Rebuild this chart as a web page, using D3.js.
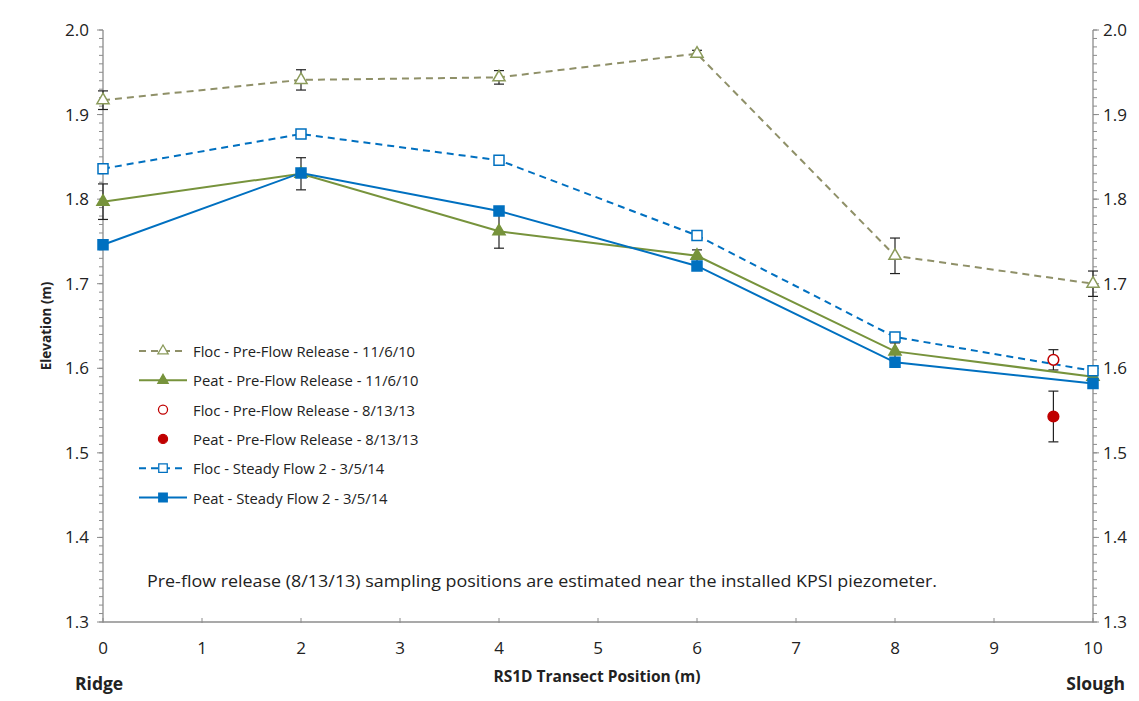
<!DOCTYPE html>
<html>
<head>
<meta charset="utf-8">
<script src="https://cdnjs.cloudflare.com/ajax/libs/d3/7.8.5/d3.min.js"></script>
<style>
  body { margin: 0; background: #fff; }
  text { font-family: "Open Sans", "Noto Sans", sans-serif; fill: #222; }
</style>
</head>
<body>
<svg id="chart" width="1139" height="701"></svg>
<script>
// positions along the transect (m)
var positions = [0, 2, 4, 6, 8, 10];

var flocPre = [1.917, 1.941, 1.944, 1.972, 1.733, 1.700];
var flocPreErr = [0.011, 0.012, 0.008, 0.004, 0.021, 0.015];
var peatPre = [1.797, 1.830, 1.762, 1.733, 1.620, 1.590];
var peatPreErr = [0.021, 0.019, 0.020, 0.007, 0.010, 0.005];
var flocSteady = [1.836, 1.877, 1.846, 1.757, 1.637, 1.597];
var peatSteady = [1.746, 1.831, 1.786, 1.721, 1.607, 1.582];

// 8/13/13 single samples near the KPSI piezometer
var kpsiPos = 9.6;
var flocKpsi = 1.610, flocKpsiErr = 0.012;
var peatKpsi = 1.543, peatKpsiErr = 0.030;

var yTicks = [1.3, 1.4, 1.5, 1.6, 1.7, 1.8, 1.9, 2.0];
var xTicks = [0, 1, 2, 3, 4, 5, 6, 7, 8, 9, 10];

var legendLabels = [
    "Floc - Pre-Flow Release - 11/6/10",
    "Peat - Pre-Flow Release - 11/6/10",
    "Floc - Pre-Flow Release - 8/13/13",
    "Peat - Pre-Flow Release - 8/13/13",
    "Floc - Steady Flow 2 - 3/5/14",
    "Peat - Steady Flow 2 - 3/5/14"
];

var OLIVE = "#77933C", GREY = "#8f9068", BLUE = "#0070C0", RED = "#C00000", AXIS = "#8c8c8c";

var svg = d3.select("#chart");
var x = d3.scaleLinear().domain([0, 10]).range([103, 1093]);
var y = d3.scaleLinear().domain([1.3, 2.0]).range([622, 30]);

// minor ticks on both y axes
var minor = d3.range(130, 201).map(function (d) { return d / 100; });
[x(0), x(10)].forEach(function (ax, side) {
    svg.append("g").selectAll("line").data(minor).enter().append("line")
        .attr("x1", side ? ax : ax - 4).attr("x2", side ? ax + 4 : ax)
        .attr("y1", function (d) { return y(d); }).attr("y2", function (d) { return y(d); })
        .attr("stroke", AXIS).attr("stroke-width", 1);
    svg.append("g").selectAll("line").data(yTicks).enter().append("line")
        .attr("x1", side ? ax : ax - 6).attr("x2", side ? ax + 6 : ax)
        .attr("y1", function (d) { return y(d); }).attr("y2", function (d) { return y(d); })
        .attr("stroke", AXIS).attr("stroke-width", 1);
    svg.append("line").attr("x1", ax).attr("x2", ax).attr("y1", y(2.0)).attr("y2", y(1.3))
        .attr("stroke", AXIS).attr("stroke-width", 1.3);
    svg.append("g").selectAll("text").data(yTicks).enter().append("text")
        .attr("x", side ? ax + 10 : ax - 14)
        .attr("y", function (d) { return y(d) + 6; })
        .attr("text-anchor", side ? "start" : "end")
        .style("font-size", "17px")
        .text(function (d) { return d.toFixed(1); });
});

// x axis
svg.append("line").attr("x1", x(0)).attr("x2", x(10)).attr("y1", y(1.3)).attr("y2", y(1.3))
    .attr("stroke", AXIS).attr("stroke-width", 1.3);
svg.append("g").selectAll("line").data(xTicks).enter().append("line")
    .attr("x1", function (d) { return x(d); }).attr("x2", function (d) { return x(d); })
    .attr("y1", y(1.3) - 4).attr("y2", y(1.3) + 1)
    .attr("stroke", AXIS);
svg.append("g").selectAll("text").data(xTicks).enter().append("text")
    .attr("x", function (d) { return x(d); })
    .attr("y", 654)
    .attr("text-anchor", "middle")
    .style("font-size", "17px")
    .text(function (d) { return d; });

svg.append("text").attr("x", 597).attr("y", 682).attr("text-anchor", "middle")
    .style("font-size", "15.5px").style("font-weight", "bold")
    .text("RS1D Transect Position (m)");
svg.append("text").attr("x", 75).attr("y", 690)
    .style("font-size", "17.5px").style("font-weight", "bold").text("Ridge");
svg.append("text").attr("x", 1125).attr("y", 690).attr("text-anchor", "end")
    .style("font-size", "17.5px").style("font-weight", "bold").text("Slough");
svg.append("text").attr("transform", "translate(51,326) rotate(-90)")
    .attr("text-anchor", "middle")
    .style("font-size", "13.5px").style("font-weight", "bold")
    .text("Elevation (m)");

svg.append("text").attr("x", 147).attr("y", 587)
    .attr("textLength", 790).attr("lengthAdjust", "spacingAndGlyphs")
    .style("font-size", "17px")
    .text("Pre-flow release (8/13/13) sampling positions are estimated near the installed KPSI piezometer.");

// error bars
function errorBars(xs, vals, errs) {
    var g = svg.append("g").attr("stroke", "#222").attr("stroke-width", 1.2);
    vals.forEach(function (v, i) {
        var px = x(xs[i]);
        g.append("line").attr("x1", px).attr("x2", px).attr("y1", y(v - errs[i])).attr("y2", y(v + errs[i]));
        g.append("line").attr("x1", px - 5).attr("x2", px + 5).attr("y1", y(v - errs[i])).attr("y2", y(v - errs[i]));
        g.append("line").attr("x1", px - 5).attr("x2", px + 5).attr("y1", y(v + errs[i])).attr("y2", y(v + errs[i]));
    });
}
errorBars(positions, flocPre, flocPreErr);
errorBars(positions, peatPre, peatPreErr);
errorBars([kpsiPos], [flocKpsi], [flocKpsiErr]);
errorBars([kpsiPos], [peatKpsi], [peatKpsiErr]);

var line = d3.line()
    .x(function (d, i) { return x(positions[i]); })
    .y(function (d) { return y(d); });

function series(vals, color, dash, width) {
    svg.append("path").datum(vals).attr("d", line)
        .attr("fill", "none").attr("stroke", color).attr("stroke-width", width)
        .attr("stroke-dasharray", dash);
}
series(flocPre, GREY, "7,5", 2);
series(peatPre, OLIVE, null, 2);
series(flocSteady, BLUE, "7,5", 2);
series(peatSteady, BLUE, null, 2);

var triangle = d3.symbol().type(d3.symbolTriangle).size(64);
var square = d3.symbol().type(d3.symbolSquare).size(100);
var circle = d3.symbol().type(d3.symbolCircle).size(90);

function markers(xs, vals, sym, fill, stroke) {
    svg.append("g").selectAll("path").data(vals).enter().append("path")
        .attr("d", sym)
        .attr("transform", function (d, i) { return "translate(" + x(xs[i]) + "," + y(d) + ")"; })
        .attr("fill", fill).attr("stroke", stroke).attr("stroke-width", 1.5);
}
markers(positions, flocPre, triangle, "#fff", "#8a9a5a");
markers(positions, peatPre, triangle, OLIVE, OLIVE);
markers(positions, flocSteady, square, "#fff", BLUE);
markers(positions, peatSteady, square, BLUE, BLUE);
markers([kpsiPos], [flocKpsi], circle, "#fff", RED);
markers([kpsiPos], [peatKpsi], circle, RED, RED);

// legend
var legendStyles = [
    { color: GREY, dash: "7,5", line: true, sym: triangle, fill: "#fff", stroke: "#8a9a5a" },
    { color: OLIVE, dash: null, line: true, sym: triangle, fill: OLIVE, stroke: OLIVE },
    { line: false, sym: circle, fill: "#fff", stroke: RED },
    { line: false, sym: circle, fill: RED, stroke: RED },
    { color: BLUE, dash: "7,5", line: true, sym: square, fill: "#fff", stroke: BLUE },
    { color: BLUE, dash: null, line: true, sym: square, fill: BLUE, stroke: BLUE }
];
var lg = svg.append("g");
legendLabels.forEach(function (label, i) {
    var ly = 351 + i * 29.3;
    var s = legendStyles[i];
    if (s.line) {
        lg.append("line").attr("x1", 139).attr("x2", 187).attr("y1", ly).attr("y2", ly)
            .attr("stroke", s.color).attr("stroke-width", 2).attr("stroke-dasharray", s.dash);
    }
    lg.append("path").attr("d", s.sym).attr("transform", "translate(163," + ly + ") scale(0.85)")
        .attr("fill", s.fill).attr("stroke", s.stroke).attr("stroke-width", 1.5);
    lg.append("text").attr("x", 193).attr("y", ly + 6)
        .style("font-size", "14.8px").text(label);
});
</script>
</body>
</html>
